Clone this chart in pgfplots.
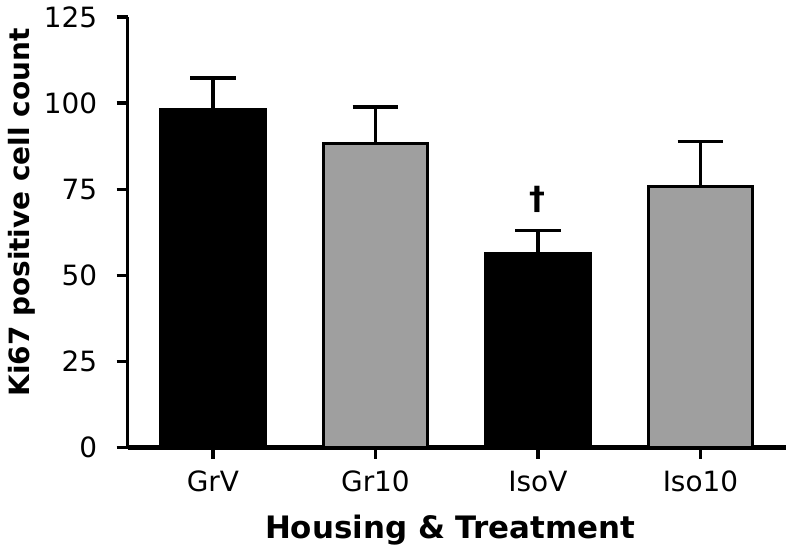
\documentclass[border=0pt]{standalone}
\usepackage{pgfplots}
\pgfplotsset{compat=1.18}
\usepackage{fontspec}
\setmainfont{DejaVu Sans}
\definecolor{bargray}{HTML}{9F9F9F}
\begin{document}
\begin{tikzpicture}
\begin{axis}[
  scale only axis,
  width=660pt, height=432pt,
  xmin=-0.525, xmax=3.525,
  ymin=0, ymax=125,
  ytick={0,25,50,75,100,125},
  xtick={0,1,2,3},
  xticklabels={GrV,Gr10,IsoV,Iso10},
  axis x line*=bottom, axis y line*=left,
  x axis line style={line width=4.5pt, black, -},
  y axis line style={line width=3.5pt, black, -},
  tick align=outside,
  major tick length=11pt,
  tick style={line width=3.5pt, black},
  tick label style={font=\fontsize{28}{28}\selectfont},
  /pgf/number format/assume math mode=true,
  xticklabel style={yshift=-9pt},
  yticklabel style={xshift=-16pt},
  xlabel={\bfseries Housing \& Treatment},
  ylabel={\bfseries Ki67 positive cell count},
  xlabel style={font=\fontsize{31}{31}\selectfont\bfseries, inner sep=0pt,
    at={(axis description cs:0.49,0)}, anchor=base, yshift=-91pt},
  ylabel style={font=\fontsize{28}{28}\selectfont\bfseries, inner sep=0pt,
    at={(axis description cs:-0.1606,0.546)}, anchor=center},
  clip=false,
]
\addplot[ybar, bar width=104pt, bar shift=0pt, fill=black, draw=black, line width=3.5pt,
  error bars/.cd, y dir=plus, y explicit,
  error bar style={line width=3.5pt, black},
  error mark options={rotate=90, line width=3.5pt, mark size=23pt, black}]
  coordinates {(0,98.1) +- (0,9.2) (2,56.4) +- (0,6.7)};
\addplot[ybar, bar width=104pt, bar shift=0pt, fill=bargray, draw=black, line width=3.5pt,
  error bars/.cd, y dir=plus, y explicit,
  error bar style={line width=3.5pt, black},
  error mark options={rotate=90, line width=3.5pt, mark size=23pt, black}]
  coordinates {(1,88.3) +- (0,10.5) (3,75.8) +- (0,13.0)};
\node[font=\fontsize{32}{32}\selectfont\bfseries] at (axis cs:2,72) {†};
\path ([xshift=-128pt,yshift=-100pt]rel axis cs:0,0) ([yshift=17pt]rel axis cs:1,1);
\end{axis}
\end{tikzpicture}
\end{document}
